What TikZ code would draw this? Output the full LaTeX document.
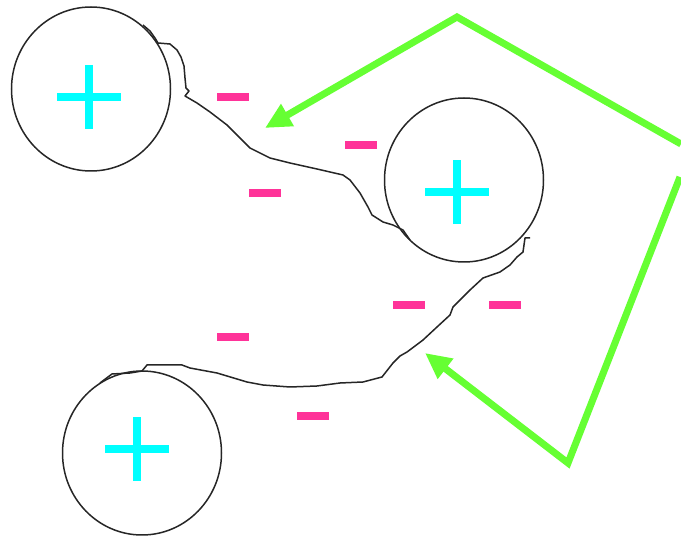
\documentclass[tikz,border=0pt]{standalone}
\usepackage{tikz}
\usetikzlibrary{arrows.meta,shapes.geometric}
\definecolor{ioncyan}{RGB}{0,255,255}
\definecolor{chargepink}{RGB}{255,51,153}
\definecolor{flowgreen}{RGB}{102,255,51}

\begin{document}
\begin{tikzpicture}[x=1pt,y=-1pt,
  cell/.style={draw=black!85,line width=1.5pt,ellipse,minimum width=159pt,minimum height=164pt,inner sep=0pt},
  hbar/.style={fill=ioncyan,minimum width=64pt,minimum height=8pt,inner sep=0pt},
  vbar/.style={fill=ioncyan,minimum width=8pt,minimum height=64pt,inner sep=0pt},
  neg/.style={fill=chargepink,minimum width=32pt,minimum height=8pt,inner sep=0pt},
  flow/.style={draw=flowgreen,line width=7pt,-{Triangle[length=26pt,width=24pt]}},
  strand/.style={draw=black!85,line width=1.5pt,line join=round}]
\useasboundingbox (0,0) rectangle (681,537);
% cells with positive charge
\node[cell] (c1) at (91,89) {};
\node[cell] (c2) at (464,180) {};
\node[cell] (c3) at (142,453) {};
\node[hbar] (p1) at (89,97) {};
\node[vbar] (p1v) at (p1) {};
\node[hbar] (p2) at (457,192) {};
\node[vbar] (p2v) at (p2) {};
\node[hbar] (p3) at (137,449) {};
\node[vbar] (p3v) at (p3) {};
% negative charges
\node[neg] (m1) at (233,97) {};
\node[neg] (m2) at (361,145) {};
\node[neg] (m3) at (265,193) {};
\node[neg] (m4) at (409,305) {};
\node[neg] (m5) at (505,305) {};
\node[neg] (m6) at (233,337) {};
\node[neg] (m7) at (313,416) {};
% strands between the cells
\draw[strand] plot coordinates {(143,25) (150,31) (155,38) (158,43) (170,44) (177,50) (181,57) (184,66) (185,78) (186,88) (189,91) (185,96) (197,103) (210,112) (227,125) (240,138) (250,148) (270,158) (290,163) (317,169) (343,175) (350,180) (360,193) (368,207) (372,215) (383,222) (393,225) (403,230) (410,240)};
\draw[strand] plot coordinates {(530,238) (525,238) (523,252) (517,257) (510,265) (500,272) (483,278) (470,290) (453,307) (450,315) (437,327) (423,340) (407,352) (400,356) (393,363) (382,377) (363,382) (340,383) (317,386) (290,387) (263,385) (247,382) (217,373) (190,368) (182,365) (147,365) (142,371) (130,373) (112,374) (100,383)};
% flow arrows
\coordinate (edge1) at (681,144);
\coordinate (apex) at (457,17);
\coordinate (tip1) at (265,128);
\coordinate (edge2) at (680,177);
\coordinate (base) at (568,463);
\coordinate (tip2) at (425,353);
\draw[flow] (edge1) -- (apex) -- (tip1);
\draw[flow] (edge2) -- (base) -- (tip2);
\end{tikzpicture}
\end{document}
